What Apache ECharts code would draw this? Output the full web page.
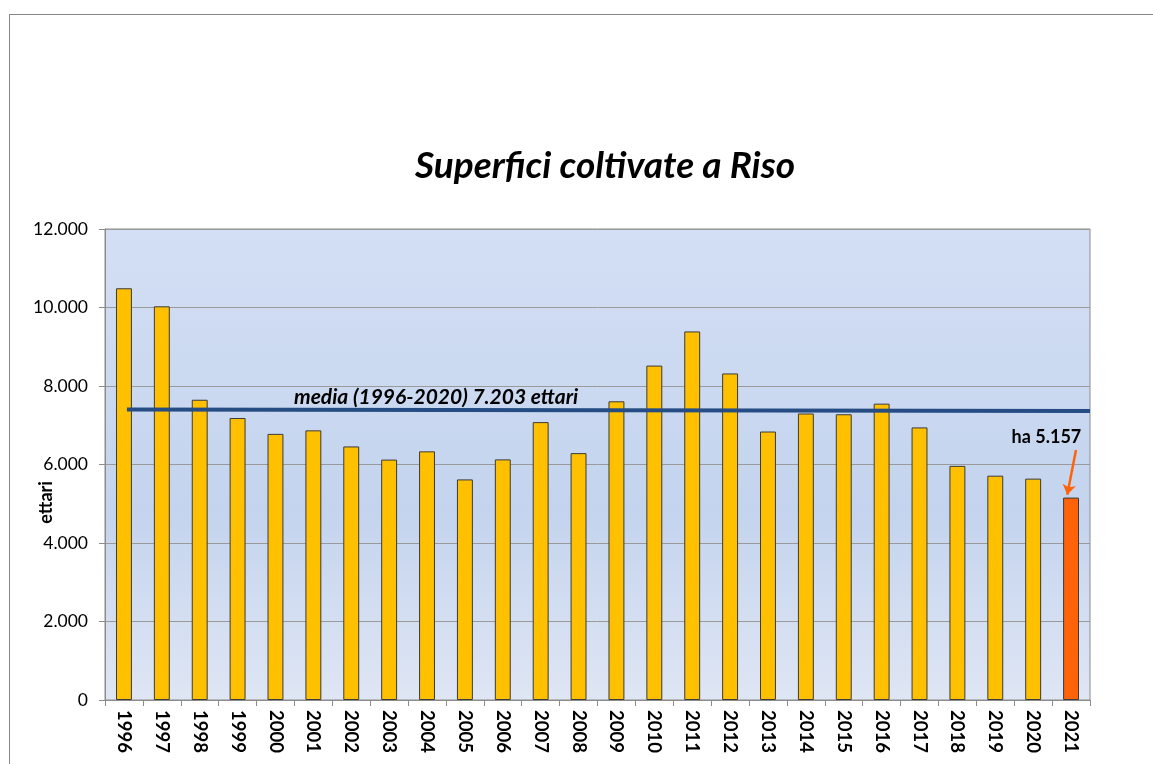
<!DOCTYPE html>
<html>
<head>
<meta charset="utf-8">
<script src="https://cdn.jsdelivr.net/npm/echarts@6/dist/echarts.min.js"></script>
<style>
html,body{margin:0;padding:0;background:#fff;}
#frame{position:absolute;left:9px;top:14px;width:1200px;height:800px;border-left:1.5px solid #888;border-top:1.5px solid #888;}
#chart{position:absolute;left:0;top:0;width:1153px;height:764px;}
</style>
</head>
<body>
<div id="frame"></div>
<div id="chart"></div>
<script>
const titleText = 'Superfici coltivate a Riso';
const yAxisName = 'ettari';
const years = ['1996','1997','1998','1999','2000','2001','2002','2003','2004','2005','2006','2007','2008','2009','2010','2011','2012','2013','2014','2015','2016','2017','2018','2019','2020','2021'];
const values = [10490,10030,7650,7185,6780,6870,6460,6125,6335,5620,6130,7080,6290,7610,8520,9390,8320,6840,7300,7280,7550,6945,5965,5715,5640,5157];
const highlightYear = '2021';
const meanLabel = 'media (1996-2020) 7.203 ettari';
const meanLine = [[0.58, 7400], [26, 7360]];
const meanLabelPos = [8.74, 7720];
const annotText = 'ha 5.157';
const annotPos = [24.85, 6700];
const arrowFrom = [25.63, 6370];
const arrowTo = [25.40, 5230];

const fmt = v => String(v).replace(/\B(?=(\d{3})+(?!\d))/g, '.');
const FONT = 'Lato';

const chart = echarts.init(document.getElementById('chart'));
chart.setOption({
  animation: false,
  backgroundColor: 'transparent',
  title: {
    text: titleText,
    left: 600, top: 143, textAlign: 'center',
    textStyle: {fontFamily: FONT, fontSize: 37, fontWeight: 'bold', fontStyle: 'italic', color: '#000'}
  },
  grid: {
    left: 105, right: 63, top: 229, bottom: 64,
    outerBoundsMode: 'none', containLabel: false,
    show: true, borderColor: '#8c8c8c', borderWidth: 1,
    backgroundColor: {type: 'linear', x: 0, y: 0, x2: 0, y2: 1, colorStops: [
      {offset: 0, color: '#D3DFF4'},
      {offset: 0.6, color: '#C4D4EE'},
      {offset: 1, color: '#DFE6F4'}
    ]}
  },
  xAxis: [{
    type: 'category', data: years,
    axisLine: {lineStyle: {color: '#8c8c8c', width: 1}},
    axisTick: {show: true, alignWithLabel: false, length: 6, lineStyle: {color: '#8c8c8c'}},
    axisLabel: {rotate: -90, margin: 10, fontFamily: FONT, fontWeight: 'bold', fontSize: 18.5, color: '#000'}
  }, {
    type: 'value', min: 0, max: 26, show: false
  }],
  yAxis: {
    type: 'value', min: 0, max: 12000, interval: 2000,
    name: yAxisName, nameLocation: 'middle', nameGap: 50, nameMoveOverlap: false,
    nameTextStyle: {fontFamily: FONT, fontWeight: 'bold', fontSize: 18, color: '#000', padding: [0, 76, 0, 0]},
    axisLine: {show: true, lineStyle: {color: '#8c8c8c'}},
    axisTick: {show: true, length: 6, lineStyle: {color: '#8c8c8c'}},
    axisLabel: {formatter: fmt, fontFamily: FONT, fontSize: 17.5, color: '#000', margin: 17},
    splitLine: {lineStyle: {color: '#9a9a9a', width: 1}}
  },
  series: [{
    type: 'bar', barWidth: '42%',
    data: values.map((v, i) => ({
      value: v,
      itemStyle: {color: years[i] === highlightYear ? '#FF6309' : '#FFC000'}
    })),
    itemStyle: {borderColor: '#3a3a3a', borderWidth: 1}
  }, {
    type: 'line', xAxisIndex: 1, data: meanLine, symbol: 'none',
    lineStyle: {color: '#254D84', width: 4}, z: 5,
    markPoint: {
      symbol: 'circle', symbolSize: 0,
      data: [
        {coord: meanLabelPos, label: {show: true, formatter: meanLabel, fontFamily: FONT, fontSize: 21, fontWeight: 'bold', fontStyle: 'italic', color: '#000'}},
        {coord: annotPos, label: {show: true, formatter: annotText, fontFamily: FONT, fontSize: 18, fontWeight: 'bold', color: '#000'}}
      ]
    },
    markLine: {
      silent: true, symbol: ['none', 'arrow'], symbolSize: 10,
      lineStyle: {color: '#FF6309', width: 2.5, type: 'solid'},
      label: {show: false},
      data: [[{coord: arrowFrom}, {coord: arrowTo}]]
    }
  }]
});
</script>
</body>
</html>
